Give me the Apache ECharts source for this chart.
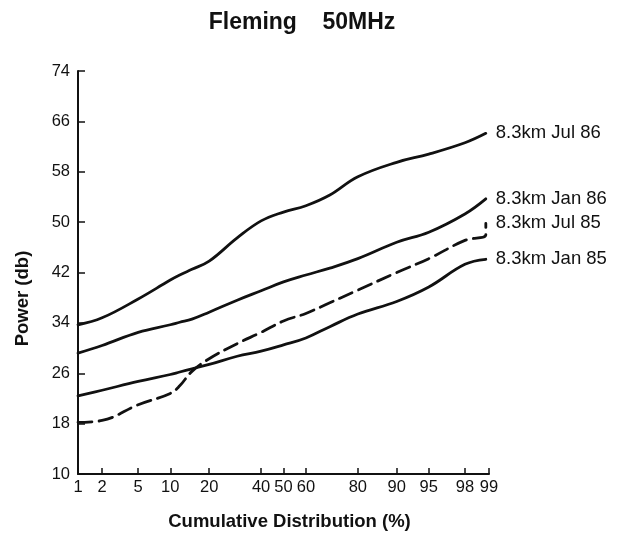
<!DOCTYPE html>
<html>
<head>
<meta charset="utf-8">
<script src="https://cdn.jsdelivr.net/npm/echarts@6/dist/echarts.min.js"></script>
<style>html,body{margin:0;padding:0;background:#fff}#c{width:624px;height:536px}</style>
</head>
<body>
<div id="c"></div>
<script>
// Cumulative distribution (%) at which each curve was read
var pct = [1, 2, 5, 10, 12, 15, 20, 30, 40, 50, 60, 70, 80, 90, 95, 98, 98.9];
var jul86 = [33.7, 34.8, 37.8, 40.8, 41.6, 42.5, 43.8, 47.5, 50.2, 51.6, 52.6, 54.3, 57.2, 59.5, 60.8, 62.6, 64.1];
var jan86 = [29.2, 30.4, 32.5, 33.7, 34.1, 34.6, 35.7, 37.6, 39.1, 40.5, 41.6, 42.7, 44.2, 46.8, 48.4, 51.3, 53.7];
var jul85 = [18.2, 18.5, 21.0, 22.8, 24.0, 26.3, 28.3, 30.7, 32.5, 34.3, 35.5, 37.2, 39.2, 42.0, 44.2, 47.1, 48.0];
var jul85EndPct = [98.9];
var jul85EndVal = [49.8];
var jan85 = [22.4, 23.3, 24.7, 25.8, 26.2, 26.7, 27.4, 28.7, 29.5, 30.5, 31.6, 33.4, 35.4, 37.4, 39.7, 43.3, 44.1];
var seriesNames = ['8.3km Jul 86', '8.3km Jan 86', '8.3km Jul 85', '8.3km Jan 85'];
var xTickLabels = [1, 2, 5, 10, 20, 40, 50, 60, 80, 90, 95, 98, 99];
var yTicks = [10, 18, 26, 34, 42, 50, 58, 66, 74];

// inverse standard normal CDF (probability-paper scale), Acklam's approximation
function probit(pp) {
  var p = pp / 100;
  var a = [-3.969683028665376e+01, 2.209460984245205e+02, -2.759285104469687e+02, 1.383577518672690e+02, -3.066479806614716e+01, 2.506628277459239e+00];
  var b = [-5.447609879822406e+01, 1.615858368580409e+02, -1.556989798598866e+02, 6.680131188771972e+01, -1.328068155288572e+01];
  var c = [-7.784894002430293e-03, -3.223964580411365e-01, -2.400758277161838e+00, -2.549732539343734e+00, 4.374664141464968e+00, 2.938163982698783e+00];
  var d = [7.784695709041462e-03, 3.224671290700398e-01, 2.445134137142996e+00, 3.754408661907416e+00];
  var pl = 0.02425, q, r;
  if (p < pl) {
    q = Math.sqrt(-2 * Math.log(p));
    return (((((c[0]*q+c[1])*q+c[2])*q+c[3])*q+c[4])*q+c[5]) / ((((d[0]*q+d[1])*q+d[2])*q+d[3])*q+1);
  } else if (p <= 1 - pl) {
    q = p - 0.5; r = q * q;
    return (((((a[0]*r+a[1])*r+a[2])*r+a[3])*r+a[4])*r+a[5])*q / (((((b[0]*r+b[1])*r+b[2])*r+b[3])*r+b[4])*r+1);
  } else {
    q = Math.sqrt(-2 * Math.log(1 - p));
    return -(((((c[0]*q+c[1])*q+c[2])*q+c[3])*q+c[4])*q+c[5]) / ((((d[0]*q+d[1])*q+d[2])*q+d[3])*q+1);
  }
}
function pairs(xs, ys) { return xs.map(function (x, i) { return [probit(x), ys[i]]; }); }
var xTickVals = xTickLabels.map(probit);

var ink = '#111';
var font = 'Liberation Sans, Arial, Helvetica, sans-serif';
function mkSeries(name, data, dashed) {
  return {
    name: name, type: 'line', data: data, smooth: 0.4, showSymbol: false, symbol: 'none',
    lineStyle: { color: ink, width: 2.8, type: dashed ? [14, 7] : 'solid', cap: 'round', join: 'round' },
    endLabel: { show: true, formatter: name, color: ink, fontSize: 18.5, fontFamily: font, distance: 10 },
    animation: false
  };
}

var chart = echarts.init(document.getElementById('c'), null, { renderer: 'canvas' });
chart.setOption({
  backgroundColor: '#fff',
  animation: false,
  title: {
    text: 'Fleming    50MHz', left: 297, top: 6, textAlign: 'center',
    textStyle: { fontSize: 23, fontWeight: 'bold', color: ink, fontFamily: font }
  },
  grid: { left: 78, right: 135, top: 71, bottom: 59, containLabel: false },
  xAxis: {
    type: 'value', min: probit(1), max: probit(99),
    name: 'Cumulative Distribution (%)', nameLocation: 'middle', nameGap: 38,
    nameTextStyle: { fontSize: 18.5, fontWeight: 'bold', color: ink, fontFamily: font, padding: [0, 0, 0, 12] },
    axisLine: { show: true, onZero: false, lineStyle: { color: ink, width: 2 } },
    axisTick: { show: true, inside: true, length: 6, customValues: xTickVals, lineStyle: { color: ink, width: 1.5 } },
    axisLabel: {
      show: true, customValues: xTickVals, margin: 5, color: ink, fontSize: 16.5, fontFamily: font,
      formatter: function (v) {
        var best = 0, bd = 1e9;
        for (var i = 0; i < xTickVals.length; i++) { var dd = Math.abs(xTickVals[i] - v); if (dd < bd) { bd = dd; best = i; } }
        return String(xTickLabels[best]);
      }
    },
    splitLine: { show: false }
  },
  yAxis: {
    type: 'value', min: 10, max: 74,
    name: 'Power (db)', nameLocation: 'middle', nameGap: 46, nameRotate: 90,
    nameTextStyle: { fontSize: 18.5, fontWeight: 'bold', color: ink, fontFamily: font, padding: [0, 52, 0, 0] },
    axisLine: { show: true, onZero: false, lineStyle: { color: ink, width: 2 } },
    axisTick: { show: true, inside: true, length: 7, customValues: yTicks, lineStyle: { color: ink, width: 1.5 } },
    axisLabel: { show: true, customValues: yTicks, margin: 8, color: ink, fontSize: 16.5, fontFamily: font },
    splitLine: { show: false }
  },
  series: [
    mkSeries(seriesNames[0], pairs(pct, jul86), false),
    mkSeries(seriesNames[1], pairs(pct, jan86), false),
    mkSeries(seriesNames[2], pairs(pct.concat(jul85EndPct), jul85.concat(jul85EndVal)), true),
    mkSeries(seriesNames[3], pairs(pct, jan85), false)
  ]
});
</script>
</body>
</html>
